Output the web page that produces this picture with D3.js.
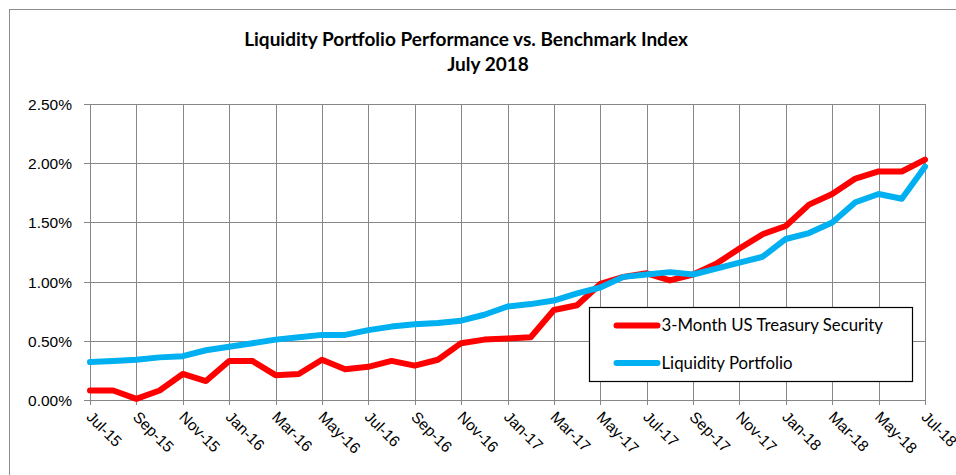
<!DOCTYPE html>
<html>
<head>
<meta charset="utf-8">
<script src="https://cdn.jsdelivr.net/npm/d3@7"></script>
<style>
  body { margin: 0; background: #fff; }
  svg { display: block; font-family: Lato, "Open Sans", sans-serif; }
  .grid line { stroke: #878787; stroke-width: 1; shape-rendering: crispEdges; }
  .lbl { font-size: 15.5px; fill: #000; }
</style>
</head>
<body>
<div id="chart"></div>
<script>
// month labels, Jul-15 .. Jul-18
const months = [
  "Jul-15","Aug-15","Sep-15","Oct-15","Nov-15","Dec-15",
  "Jan-16","Feb-16","Mar-16","Apr-16","May-16","Jun-16",
  "Jul-16","Aug-16","Sep-16","Oct-16","Nov-16","Dec-16",
  "Jan-17","Feb-17","Mar-17","Apr-17","May-17","Jun-17",
  "Jul-17","Aug-17","Sep-17","Oct-17","Nov-17","Dec-17",
  "Jan-18","Feb-18","Mar-18","Apr-18","May-18","Jun-18",
  "Jul-18"
];

// 3-Month US Treasury Security (%)
const treasury = [
  0.08, 0.08, 0.01, 0.08, 0.22, 0.16, 0.33, 0.33, 0.21, 0.22, 0.34, 0.26,
  0.28, 0.33, 0.29, 0.34, 0.48, 0.51, 0.52, 0.53, 0.76, 0.80, 0.98, 1.04,
  1.07, 1.01, 1.06, 1.15, 1.28, 1.40, 1.47, 1.65, 1.74, 1.87, 1.93, 1.93,
  2.03
];

// Liquidity Portfolio (%)
const portfolio = [
  0.32, 0.33, 0.34, 0.36, 0.37, 0.42, 0.45, 0.48, 0.51, 0.53, 0.55, 0.55,
  0.59, 0.62, 0.64, 0.65, 0.67, 0.72, 0.79, 0.81, 0.84, 0.90, 0.95, 1.04,
  1.06, 1.08, 1.06, 1.11, 1.16, 1.21, 1.36, 1.41, 1.50, 1.67, 1.74, 1.70,
  1.97
];

const yTicks = [0, 0.5, 1.0, 1.5, 2.0, 2.5];

const seriesNames = ["3-Month US Treasury Security", "Liquidity Portfolio"];
const seriesColors = ["#ff0000", "#00b0f0"];

const width = 956, height = 475;
const margin = { left: 90, right: 31, top: 104, bottom: 75 };

const svg = d3.select("#chart").append("svg")
    .attr("width", width)
    .attr("height", height);

// chart area border (runs off the right/bottom edges)
svg.append("rect")
    .attr("x", 9.5).attr("y", 9.5)
    .attr("width", 980).attr("height", 500)
    .attr("fill", "none")
    .attr("stroke", "#8c8c8c");

const x = d3.scaleLinear()
    .domain([0, months.length - 1])
    .range([margin.left, width - margin.right]);

const y = d3.scaleLinear()
    .domain([0, 2.5])
    .range([height - margin.bottom, margin.top]);

// title
svg.append("text")
    .attr("x", 466).attr("y", 46)
    .attr("text-anchor", "middle")
    .style("font-weight", "bold").style("font-size", "19px")
    .text("Liquidity Portfolio Performance vs. Benchmark Index");
svg.append("text")
    .attr("x", 488).attr("y", 71)
    .attr("text-anchor", "middle")
    .style("font-weight", "bold").style("font-size", "19px")
    .text("July 2018");

// horizontal grid + y axis
const yAxis = d3.axisLeft(y)
    .tickValues(yTicks)
    .tickSize(0)
    .tickFormat(d => d3.format(".2f")(d) + "%");

const gy = svg.append("g")
    .attr("class", "grid")
    .attr("transform", `translate(${margin.left - 6},0)`)
    .call(yAxis);
gy.select(".domain").remove();
gy.selectAll(".tick line")
    .attr("x1", 0)
    .attr("x2", width - margin.right - margin.left + 6);
gy.selectAll("text")
    .attr("class", "lbl")
    .attr("x", -12)
    .attr("dy", "0.35em");

// vertical grid + x axis, every other month
const xIdx = d3.range(0, months.length, 2);
const xAxis = d3.axisBottom(x)
    .tickValues(xIdx)
    .tickSize(0)
    .tickFormat(i => months[i]);

const gx = svg.append("g")
    .attr("class", "grid")
    .attr("transform", `translate(0,${height - margin.bottom})`)
    .call(xAxis);
gx.select(".domain").remove();
gx.selectAll(".tick line")
    .attr("y1", -(height - margin.bottom - margin.top))
    .attr("y2", 5);
gx.selectAll("text")
    .attr("class", "lbl")
    .attr("text-anchor", "start")
    .attr("y", 0).attr("dy", 0)
    .attr("transform", "translate(-5,18) rotate(45)");

// series lines
const line = d3.line()
    .x((d, i) => x(i))
    .y(d => y(d));

[treasury, portfolio].forEach((vals, k) => {
    svg.append("path")
        .datum(vals)
        .attr("fill", "none")
        .attr("stroke", seriesColors[k])
        .attr("stroke-width", 6)
        .attr("stroke-linejoin", "round")
        .attr("stroke-linecap", "round")
        .attr("d", line);
});

// legend
const lg = svg.append("g").attr("transform", "translate(589.5,307.5)");
lg.append("rect")
    .attr("width", 323).attr("height", 74)
    .attr("fill", "#fff")
    .attr("stroke", "#000").attr("stroke-width", 1.2);

seriesNames.forEach((name, k) => {
    const cy = 18 + k * 37.5;
    lg.append("line")
        .attr("x1", 27).attr("x2", 68)
        .attr("y1", cy).attr("y2", cy)
        .attr("stroke", seriesColors[k])
        .attr("stroke-width", 6)
        .attr("stroke-linecap", "round");
    lg.append("text")
        .attr("class", "lbl")
        .attr("x", 72).attr("y", cy)
        .attr("dy", "0.35em")
        .style("font-size", "16.8px")
        .text(name);
});
</script>
</body>
</html>
